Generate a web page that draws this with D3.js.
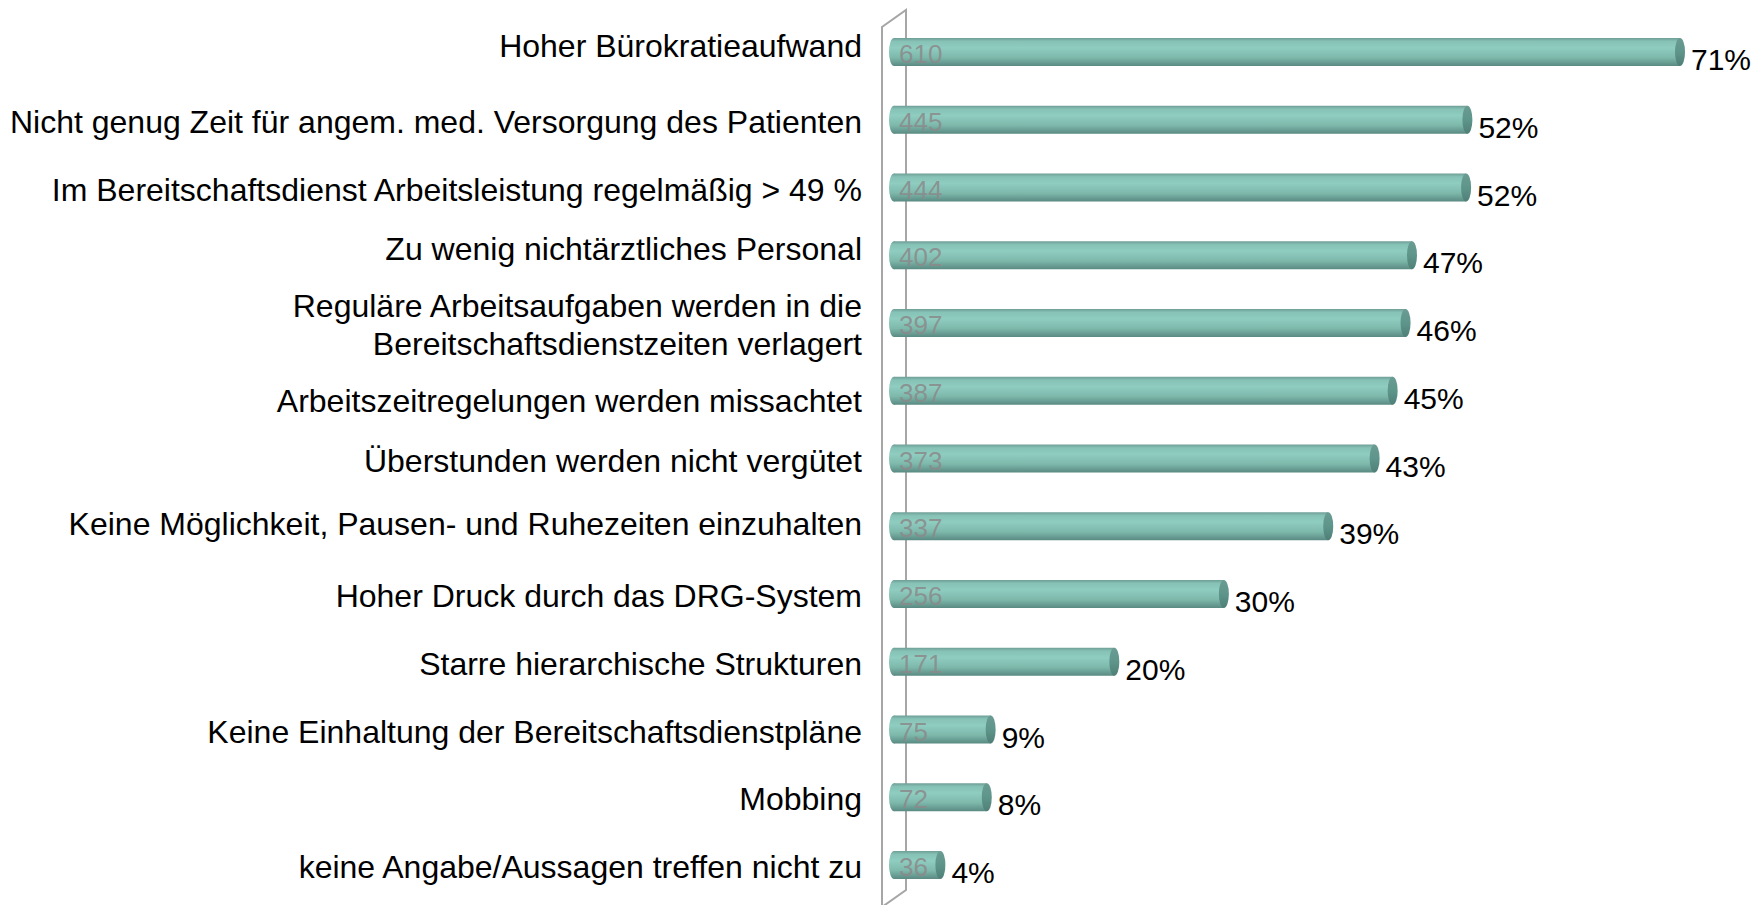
<!DOCTYPE html>
<html>
<head>
<meta charset="utf-8">
<script src="https://cdn.jsdelivr.net/npm/d3@7"></script>
<style>
  body { margin: 0; background: #fff; }
  text { font-family: "Liberation Sans", Arial, sans-serif; }
</style>
</head>
<body>
<div id="chart"></div>
<script>
// data
var categories = [
  "Hoher Bürokratieaufwand",
  "Nicht genug Zeit für angem. med. Versorgung des Patienten",
  "Im Bereitschaftsdienst Arbeitsleistung regelmäßig > 49 %",
  "Zu wenig nichtärztliches Personal",
  "Reguläre Arbeitsaufgaben werden in die|Bereitschaftsdienstzeiten verlagert",
  "Arbeitszeitregelungen werden missachtet",
  "Überstunden werden nicht vergütet",
  "Keine Möglichkeit, Pausen- und Ruhezeiten einzuhalten",
  "Hoher Druck durch das DRG-System",
  "Starre hierarchische Strukturen",
  "Keine Einhaltung der Bereitschaftsdienstpläne",
  "Mobbing",
  "keine Angabe/Aussagen treffen nicht zu"
];
var counts = [610, 445, 444, 402, 397, 387, 373, 337, 256, 171, 75, 72, 36];
var percents = [71, 52, 52, 47, 46, 45, 43, 39, 30, 20, 9, 8, 4];

var width = 1764, height = 905;
var barH = 28, capRx = 5;
// the labels in the original are not all placed on the same line as their bar
var labelNudge = [-8, 0, 0, -8, 0, 8, 0, -4, 0, 0, 0, 0, 0];

var svg = d3.select("#chart")
  .append("svg")
    .attr("width", width)
    .attr("height", height);

// gradients for the cylinder look
var defs = svg.append("defs");
var grad = defs.append("linearGradient")
    .attr("id", "cyl")
    .attr("x1", 0).attr("y1", 0).attr("x2", 0).attr("y2", 1);
grad.append("stop").attr("offset", "0%").attr("stop-color", "#6f9e96");
grad.append("stop").attr("offset", "12%").attr("stop-color", "#86c2b6");
grad.append("stop").attr("offset", "35%").attr("stop-color", "#8fcdc0");
grad.append("stop").attr("offset", "70%").attr("stop-color", "#7db8ab");
grad.append("stop").attr("offset", "100%").attr("stop-color", "#5a8a82");

var capGrad = defs.append("linearGradient")
    .attr("id", "cap")
    .attr("x1", 0).attr("y1", 0).attr("x2", 0).attr("y2", 1);
capGrad.append("stop").attr("offset", "0%").attr("stop-color", "#6a9c93");
capGrad.append("stop").attr("offset", "50%").attr("stop-color", "#5e958b");
capGrad.append("stop").attr("offset", "100%").attr("stop-color", "#4f7f77");

// scales
var x = d3.scaleLinear()
  .domain([0, 610])
  .range([894, 1680]);

var y = d3.scalePoint()
  .domain(categories)
  .range([52, 865]);

// 3d wall on the left
var wall = svg.append("g")
  .attr("fill", "none")
  .attr("stroke", "#a6a6a6")
  .attr("stroke-width", 2);
wall.append("path").attr("d", "M882,905 L882,27 L906,10 L906,890 L882,907");

// bars
var rows = svg.selectAll(".row")
  .data(categories)
  .enter()
  .append("g")
    .attr("class", "row");

rows.append("ellipse")
  .attr("cx", x(0))
  .attr("cy", function(d) { return y(d); })
  .attr("rx", capRx)
  .attr("ry", barH / 2)
  .attr("fill", "url(#cyl)");

rows.append("rect")
  .attr("x", x(0))
  .attr("y", function(d) { return y(d) - barH / 2; })
  .attr("width", function(d, i) { return x(counts[i]) - x(0); })
  .attr("height", barH)
  .attr("fill", "url(#cyl)");

rows.append("ellipse")
  .attr("cx", function(d, i) { return x(counts[i]); })
  .attr("cy", function(d) { return y(d); })
  .attr("rx", capRx)
  .attr("ry", barH / 2)
  .attr("fill", "url(#cap)");

// counts inside the bars
rows.append("text")
  .attr("x", x(0) + 5)
  .attr("y", function(d) { return y(d) + 11; })
  .style("font-size", "26px")
  .attr("fill", "#8a8a8a")
  .attr("fill-opacity", 0.85)
  .text(function(d, i) { return counts[i]; });

// percentages
rows.append("text")
  .attr("x", function(d, i) { return x(counts[i]) + capRx + 6; })
  .attr("y", function(d) { return y(d) + 18; })
  .style("font-size", "30px")
  .attr("fill", "#000")
  .text(function(d, i) { return percents[i] + "%"; });

// category labels
rows.each(function(d, i) {
  var lines = d.split("|");
  var t = d3.select(this).append("text")
    .attr("text-anchor", "end")
    .style("font-size", "32px")
    .attr("fill", "#000");
  lines.forEach(function(l, j) {
    var off = lines.length === 1 ? 13 : (j === 0 ? -6 : 32);
    t.append("tspan")
      .attr("x", 862)
      .attr("y", y(d) + off + labelNudge[i])
      .text(l);
  });
});
</script>
</body>
</html>
